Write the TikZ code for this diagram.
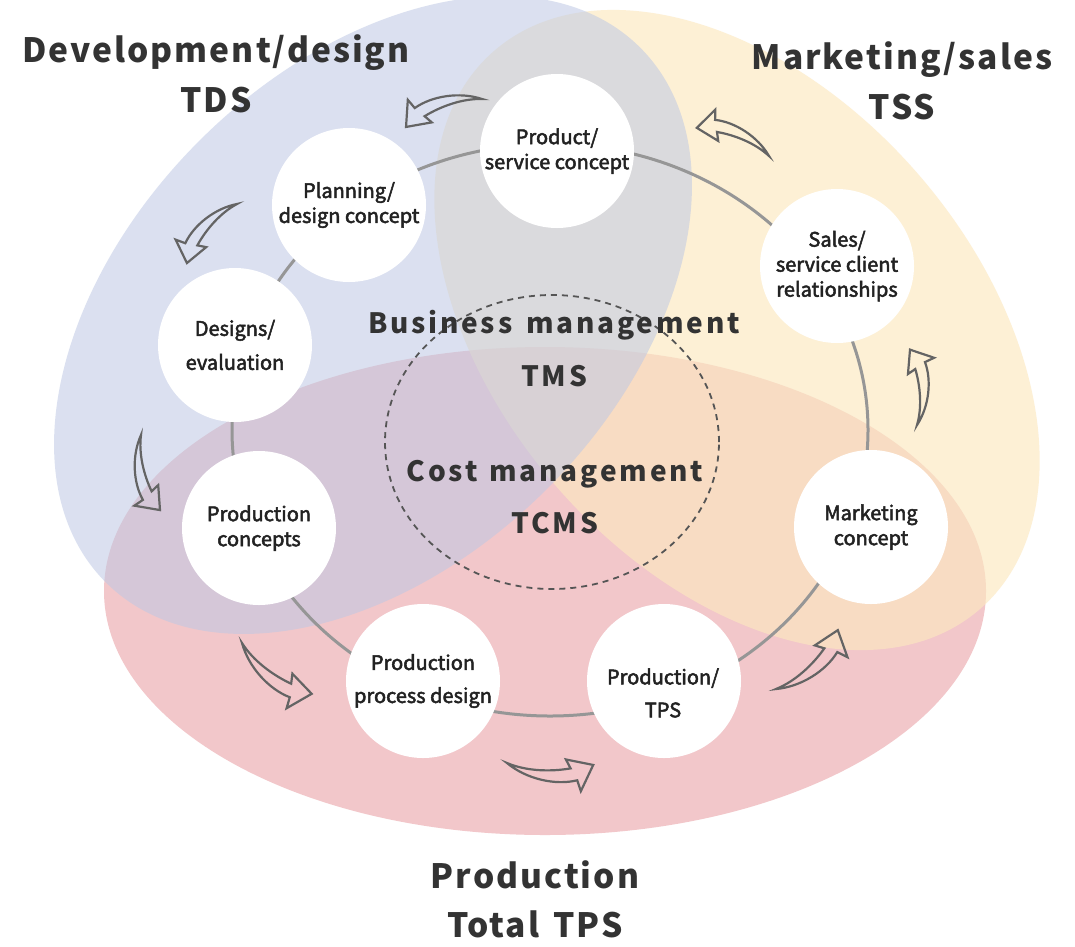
\documentclass[tikz,border=0pt]{standalone}
\usepackage{fontspec}
\setmainfont{Noto Sans CJK JP}
\newfontfamily\titlefont{Noto Sans CJK JP}[LetterSpace=6]
\newfontfamily\midfont{Noto Sans CJK JP}[LetterSpace=10]
\newfontfamily\circfont{Noto Sans CJK JP}[FakeBold=2.5]
\definecolor{pinkc}{RGB}{242,199,202}
\definecolor{yellowc}{RGB}{252,232,192}
\definecolor{bluec}{RGB}{190,200,228}
\definecolor{ringc}{RGB}{150,150,150}
\definecolor{dashc}{RGB}{85,85,85}
\definecolor{arrc}{RGB}{100,100,100}
\definecolor{ttlc}{RGB}{51,51,51}
\definecolor{txtc}{RGB}{34,34,34}
\begin{document}
\begin{tikzpicture}[x=1pt,y=-1pt,
  circ/.style={circle, fill=white, minimum size=154pt, inner sep=0pt, align=center,
    font=\circfont\fontsize{20}{25}\selectfont, text=txtc},
  ctext/.style={inner sep=0pt, align=center, font=\circfont\fontsize{20}{25}\selectfont, text=txtc},
  title/.style={font=\titlefont\bfseries\fontsize{33.5}{38}\selectfont, text=ttlc, inner sep=0pt, anchor=base},
  midt/.style={font=\midfont\bfseries\fontsize{28}{32}\selectfont, text=ttlc, inner sep=0pt, anchor=base},
  arrowshape/.style={draw=arrc, line width=2.2pt, line join=miter}]
\useasboundingbox (0,0) rectangle (1075,946);
\fill[white] (0,0) rectangle (1075,946);
% regions
\fill[pinkc] (545,591) ellipse [x radius=441pt, y radius=244pt];
\fill[yellowc, fill opacity=0.65, rotate around={-48.9:(737,330)}] (737,330) ellipse [x radius=370pt, y radius=239pt];
\fill[bluec, fill opacity=0.55, rotate around={45:(373,315)}] (373,315) ellipse [x radius=378pt, y radius=246pt];
% ring and dashed circle
\draw[ringc, line width=3pt] (550,430) ellipse [x radius=318pt, y radius=286pt];
\draw[dashc, line width=1.8pt, dash pattern=on 6pt off 5pt] (552,442) ellipse [x radius=167pt, y radius=147pt];
% centre texts
\node[midt] (bm) at (554,333) {Business\hspace{14pt}management};
\node[midt] (tms) at (554,386) {TMS};
\node[midt] (cm) at (555,481) {Cost\hspace{12pt}management};
\node[midt] (tcms) at (555,533) {TCMS};
% circles
\node[circ] (prod) at (557,151) {Product/\\service concept};
\node[circ] (plan) at (349,205) {Planning/\\design concept};
\node[circ] (desg) at (235,345) {Designs/\\[9pt]evaluation};
\node[circ] (pcon) at (259,528) {Production\\concepts};
\node[circ] (ppd) at (423,681) {Production\\[8pt]process design};
\node[circ] (tps) at (664,681) {};
\node[ctext] (tpst) at (663,693) {Production/\\[8pt]TPS};
\node[circ] (mkt) at (871,527) {Marketing\\concept};
\node[circ] (sales) at (837,266) {Sales/\\service client\\relationships};
% curved arrows
\foreach \tx/\ty/\ang/\sc in {482/99/200.2/0.92, 237/204/-130.3/0.88, 141/435/-75.8/0.88,
   242/643/-36.1/0.98, 507/763/-1.3/0.98, 776/689/43.6/0.97, 917/425/95.3/0.86, 769/156/158.7/0.88}{
  \begin{scope}[shift={(\tx,\ty)}, rotate=\ang, scale=\sc]
    \draw[arrowshape] (0,0) .. controls (20,8) and (45,8) .. (65,4) -- (60,-5) -- (88,0)
      -- (76,27) -- (72,16) .. controls (50,22) and (20,16) .. (0,0) -- cycle;
  \end{scope}
}
% titles
\node[title] (devA) at (216,62) {Development/design};
\node[title] (devB) at (216,112) {TDS};
\node[title] (mkA) at (902,69) {Marketing/sales};
\node[title] (mkB) at (902,119) {TSS};
\node[title] (prA) at (535,888) {Production};
\node[title] (prB) at (535,937) {Total\hspace{14pt}TPS};
\end{tikzpicture}
\end{document}
